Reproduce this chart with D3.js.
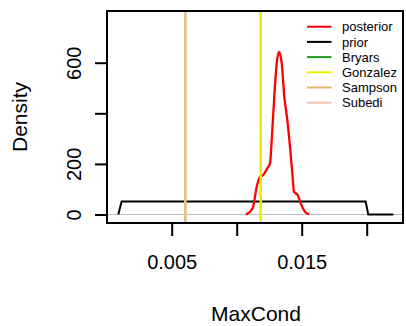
<!DOCTYPE html>
<html>
<head>
<meta charset="utf-8">
<script src="https://cdn.jsdelivr.net/npm/d3@7"></script>
<style>
  body { margin: 0; background: #fff; }
  svg { display: block; font-family: "Liberation Sans", Arial, sans-serif; }
</style>
</head>
<body>
<svg width="406" height="326"></svg>
<script>
const svg = d3.select("svg");

// posterior density of MaxCond
const posteriorX = [0.010715, 0.011231, 0.011538, 0.011792, 0.012046, 0.012354, 0.012562, 0.012738,
  0.012892, 0.013077, 0.013254, 0.013462, 0.013662, 0.013892, 0.014100, 0.014277, 0.014408,
  0.014692, 0.014923, 0.015254, 0.015585];
const posteriorY = [0, 25, 110, 149, 156, 183, 202, 334, 466, 598, 643, 598, 466, 374, 268, 163, 90,
  77, 44, 11, 0];

// prior density (uniform)
const priorX = [0.00089, 0.00115, 0.01992, 0.02012, 0.02205];
const priorY = [0, 51, 51, 0, 0];

// reference values from the literature
const refNames = ["Bryars", "Gonzalez", "Sampson", "Subedi"];
const refValues = [0.011846, 0.011846, 0.006046, 0.006046];
const refColors = ["#1e9e1e", "#eded00", "#e9b56c", "#f3c1ad"];
// lines overlap in the plot; the visible blend
const refLineColors = ["#1e9e1e", "#eeee00", "#e2bf8a", "#e2c28e"];

const legendNames = ["posterior", "prior"].concat(refNames);
const legendColors = ["#ff0000", "#000000"].concat(refColors);

const xTicks = [0.005, 0.010, 0.015, 0.020];
const xTickLabels = ["0.005", "", "0.015", ""];
const yTicks = [0, 200, 400, 600];
const yTickLabels = ["0", "200", "", "600"];

const box = {left: 107, right: 403, top: 11, bottom: 223};

const x = d3.scaleLinear().domain([0, 0.005]).range([106.7, 171.7]);
const y = d3.scaleLinear().domain([0, 600]).range([214.5, 62.7]);

const plot = svg.append("g");

// clip to the plot region
svg.append("clipPath").attr("id", "clip")
  .append("rect")
  .attr("x", box.left).attr("y", box.top)
  .attr("width", box.right - box.left).attr("height", box.bottom - box.top);

const inner = plot.append("g").attr("clip-path", "url(#clip)");

// gray zero line
inner.append("line")
  .attr("x1", box.left).attr("x2", box.right)
  .attr("y1", y(0)).attr("y2", y(0))
  .attr("stroke", "#bebebe").attr("stroke-width", 1);

const line = d3.line().x(d => x(d[0])).y(d => y(d[1]));

// prior
inner.append("path")
  .datum(priorX.map((v, i) => [v, priorY[i]]))
  .attr("fill", "none").attr("stroke", "#000").attr("stroke-width", 2)
  .attr("d", line);

// posterior
inner.append("path")
  .datum(posteriorX.map((v, i) => [v, posteriorY[i]]))
  .attr("fill", "none").attr("stroke", "#ff0000").attr("stroke-width", 2.3)
  .attr("stroke-linejoin", "round")
  .attr("d", line.curve(d3.curveMonotoneX));

// reference vertical lines
refValues.forEach((v, i) => {
  inner.append("line")
    .attr("x1", x(v)).attr("x2", x(v))
    .attr("y1", box.top).attr("y2", box.bottom)
    .attr("stroke", refLineColors[i])
    .attr("stroke-width", refNames[i] === "Bryars" ? 1.6 : 2.4);
});

// box
plot.append("rect")
  .attr("x", box.left).attr("y", box.top)
  .attr("width", box.right - box.left).attr("height", box.bottom - box.top)
  .attr("fill", "none").attr("stroke", "#000").attr("stroke-width", 2);

// x axis
const xAxis = d3.axisBottom(x).tickValues(xTicks)
  .tickFormat((d, i) => xTickLabels[i]).tickSize(13).tickPadding(19);
const xAxisG = svg.append("g").attr("transform", `translate(0,${box.bottom})`).call(xAxis);
xAxisG.select(".domain").remove();
xAxisG.selectAll(".tick line").attr("stroke-width", 2);
xAxisG.selectAll("text").style("font-size", "20px").attr("fill", "#000");

// y axis
const yAxis = d3.axisLeft(y).tickValues(yTicks)
  .tickFormat((d, i) => yTickLabels[i]).tickSize(12);
const yAxisG = svg.append("g").attr("transform", `translate(${box.left},0)`).call(yAxis);
yAxisG.select(".domain").remove();
yAxisG.selectAll(".tick line").attr("stroke-width", 2);
yAxisG.selectAll("text")
  .attr("x", 0).attr("dy", null)
  .attr("transform", "translate(-26,0) rotate(-90)")
  .attr("text-anchor", "middle")
  .style("font-size", "20px").attr("fill", "#000");

// axis titles
svg.append("text")
  .attr("x", 256).attr("y", 321)
  .attr("text-anchor", "middle")
  .style("font-size", "21px")
  .text("MaxCond");

svg.append("text")
  .attr("transform", "translate(27,117) rotate(-90)")
  .attr("text-anchor", "middle")
  .style("font-size", "21px")
  .text("Density");

// legend
const legend = svg.append("g").attr("transform", "translate(307,26.7)");
legendNames.forEach((name, i) => {
  const row = legend.append("g").attr("transform", `translate(0,${i * 15.2})`);
  row.append("line")
    .attr("x1", 0).attr("x2", 24.5)
    .attr("stroke", legendColors[i]).attr("stroke-width", 2);
  row.append("text")
    .attr("x", 35).attr("y", 4.7)
    .style("font-size", "13px")
    .text(name);
});
</script>
</body>
</html>
